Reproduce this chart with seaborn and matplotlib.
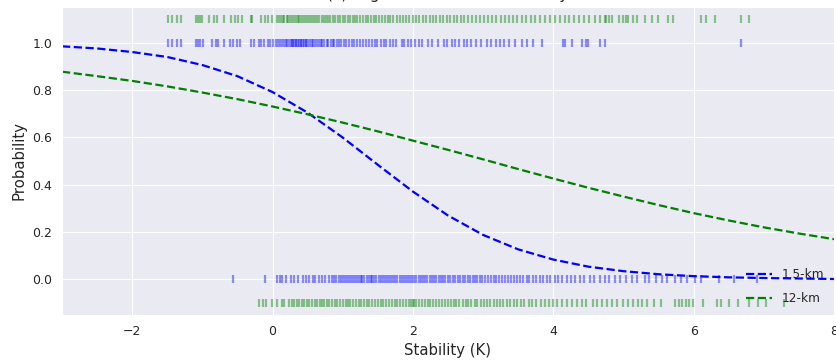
import matplotlib
matplotlib.use("Agg")
import matplotlib.pyplot as plt
import seaborn as sns

# Stability (K) of cases where the 1.5-km level had an event / no event
blue_events = [-1.49, -1.43, -1.36, -1.30, -1.09, -1.06, -1.03, -0.99, -0.86, -0.80, -0.78,
               -0.69, -0.60, -0.56, -0.51, -0.47, -0.30, -0.26, -0.19, -0.16, -0.12, -0.07,
               -0.04, 0.01, 0.05, 0.08, 0.11, 0.14, 0.16, 0.19, 0.21, 0.24, 0.26, 0.28, 0.29,
               0.31, 0.33, 0.34, 0.36, 0.38, 0.40, 0.41, 0.43, 0.45, 0.47, 0.48, 0.51, 0.53,
               0.56, 0.58, 0.61, 0.63, 0.66, 0.69, 0.71, 0.74, 0.77, 0.79, 0.83, 0.86, 0.88,
               0.92, 0.95, 0.98, 1.02, 1.05, 1.09, 1.13, 1.16, 1.21, 1.24, 1.29, 1.33, 1.37,
               1.41, 1.46, 1.49, 1.54, 1.59, 1.62, 1.67, 1.71, 1.76, 1.84, 1.88, 1.93, 1.97,
               2.03, 2.08, 2.13, 2.21, 2.27, 2.36, 2.44, 2.49, 2.55, 2.60, 2.66, 2.73, 2.77,
               2.83, 2.90, 2.97, 3.05, 3.11, 3.18, 3.24, 3.30, 3.37, 3.45, 3.55, 3.62, 3.71,
               3.84, 4.14, 4.17, 4.27, 4.41, 4.46, 4.50, 4.67, 4.74, 6.67]
blue_nonevents = [-0.57, -0.11, 0.07, 0.10, 0.14, 0.19, 0.27, 0.31, 0.36, 0.43, 0.47, 0.52,
                  0.57, 0.61, 0.66, 0.70, 0.75, 0.80, 0.85, 0.88, 0.91, 0.94, 0.97, 1.00,
                  1.03, 1.06, 1.09, 1.12, 1.15, 1.18, 1.20, 1.23, 1.26, 1.28, 1.31, 1.34,
                  1.37, 1.40, 1.42, 1.45, 1.48, 1.51, 1.54, 1.57, 1.60, 1.63, 1.66, 1.69,
                  1.72, 1.75, 1.78, 1.81, 1.84, 1.87, 1.90, 1.93, 1.96, 1.99, 2.02, 2.05,
                  2.08, 2.11, 2.14, 2.17, 2.20, 2.24, 2.27, 2.30, 2.33, 2.37, 2.40, 2.43,
                  2.46, 2.50, 2.53, 2.57, 2.60, 2.64, 2.67, 2.71, 2.74, 2.78, 2.81, 2.85,
                  2.88, 2.92, 2.95, 2.99, 3.03, 3.07, 3.11, 3.15, 3.19, 3.23, 3.27, 3.31,
                  3.35, 3.40, 3.44, 3.48, 3.53, 3.57, 3.62, 3.66, 3.71, 3.76, 3.81, 3.86,
                  3.91, 3.96, 4.02, 4.07, 4.13, 4.19, 4.25, 4.31, 4.38, 4.44, 4.52, 4.58,
                  4.66, 4.73, 4.80, 4.88, 4.95, 5.04, 5.12, 5.20, 5.30, 5.37, 5.46, 5.55,
                  5.62, 5.73, 5.82, 5.90, 6.02, 6.10, 6.36, 6.58, 6.90]

# Stability (K) of cases where the 12-km level had an event / no event
green_events = [-1.49, -1.43, -1.36, -1.30, -1.09, -1.06, -1.03, -1.00, -0.90, -0.83, -0.79,
                -0.69, -0.59, -0.53, -0.49, -0.44, -0.30, -0.29, -0.16, -0.11, -0.07, -0.01,
                0.06, 0.09, 0.12, 0.15, 0.17, 0.20, 0.22, 0.25, 0.28, 0.30, 0.33, 0.36, 0.38,
                0.41, 0.44, 0.46, 0.49, 0.52, 0.55, 0.58, 0.60, 0.63, 0.66, 0.70, 0.73, 0.76,
                0.79, 0.82, 0.86, 0.89, 0.93, 0.96, 1.00, 1.03, 1.07, 1.10, 1.14, 1.18, 1.21,
                1.25, 1.29, 1.33, 1.36, 1.40, 1.44, 1.48, 1.52, 1.56, 1.60, 1.64, 1.68, 1.72,
                1.77, 1.81, 1.86, 1.90, 1.95, 2.00, 2.05, 2.09, 2.14, 2.19, 2.24, 2.29, 2.33,
                2.38, 2.43, 2.48, 2.53, 2.58, 2.63, 2.68, 2.73, 2.78, 2.84, 2.90, 2.95, 3.01,
                3.07, 3.13, 3.19, 3.25, 3.31, 3.37, 3.43, 3.49, 3.55, 3.61, 3.68, 3.74, 3.81,
                3.88, 3.95, 4.02, 4.10, 4.16, 4.22, 4.30, 4.36, 4.44, 4.51, 4.60, 4.67, 4.73,
                4.75, 4.80, 4.84, 4.93, 4.99, 5.03, 5.07, 5.13, 5.20, 5.31, 5.41, 5.49, 5.63,
                5.71, 6.10, 6.17, 6.31, 6.67, 6.79]
green_nonevents = [-0.20, -0.14, -0.09, -0.01, 0.06, 0.13, 0.17, 0.24, 0.28, 0.31, 0.35, 0.38,
                   0.42, 0.45, 0.49, 0.52, 0.56, 0.60, 0.63, 0.67, 0.70, 0.74, 0.78, 0.81,
                   0.85, 0.89, 0.92, 0.96, 1.00, 1.04, 1.07, 1.11, 1.15, 1.19, 1.23, 1.26,
                   1.30, 1.34, 1.38, 1.42, 1.46, 1.50, 1.54, 1.58, 1.62, 1.66, 1.70, 1.74,
                   1.78, 1.82, 1.86, 1.90, 1.94, 1.97, 2.00, 2.02, 2.05, 2.09, 2.13, 2.17,
                   2.21, 2.25, 2.29, 2.33, 2.37, 2.41, 2.46, 2.50, 2.54, 2.58, 2.62, 2.66,
                   2.71, 2.75, 2.79, 2.83, 2.88, 2.92, 2.97, 3.01, 3.06, 3.10, 3.15, 3.20,
                   3.24, 3.29, 3.34, 3.39, 3.44, 3.49, 3.54, 3.59, 3.65, 3.70, 3.76, 3.82,
                   3.88, 3.94, 4.00, 4.06, 4.12, 4.19, 4.27, 4.34, 4.41, 4.47, 4.56, 4.63,
                   4.69, 4.77, 4.84, 4.91, 5.00, 5.06, 5.14, 5.21, 5.27, 5.34, 5.43, 5.53,
                   5.74, 5.79, 5.84, 5.89, 5.93, 5.99, 6.14, 6.34, 6.39, 6.50, 6.63, 6.79,
                   6.91, 7.03, 7.29]

# Fitted logistic probability curves
curve_x = [-3.0, -2.5, -2.0, -1.5, -1.0, -0.5, 0.0, 0.5, 1.0, 1.5, 2.0, 2.5,
           3.0, 3.5, 4.0, 4.5, 5.0, 5.5, 6.0, 6.5, 7.0, 7.5, 8.0]
prob_1p5km = [0.984, 0.975, 0.960, 0.939, 0.905, 0.858, 0.791, 0.704, 0.599, 0.484,
              0.371, 0.270, 0.188, 0.127, 0.084, 0.054, 0.035, 0.022, 0.014, 0.009,
              0.006, 0.004, 0.002]
prob_12km = [0.877, 0.858, 0.838, 0.815, 0.789, 0.761, 0.730, 0.697, 0.662, 0.625,
             0.586, 0.547, 0.507, 0.466, 0.426, 0.387, 0.350, 0.314, 0.280, 0.249,
             0.220, 0.194, 0.170]

series_labels = ["1.5-km", "12-km"]
title = "(c) Logistic Model: AC - stability"

sns.set_style("darkgrid")
plt.rcParams["font.family"] = ["DejaVu Sans"]

fig = plt.figure(figsize=(8.36, 3.6), dpi=100)
ax = fig.add_axes([62 / 836, 45 / 360, 772 / 836, 308 / 360])

rug_kw = dict(marker="|", s=34, linewidth=1.6, alpha=0.42, legend=False, ax=ax)
sns.scatterplot(x=green_events, y=[1.1] * len(green_events), color="g", **rug_kw)
sns.scatterplot(x=blue_events, y=[1.0] * len(blue_events), color="b", **rug_kw)
sns.scatterplot(x=blue_nonevents, y=[0.0] * len(blue_nonevents), color="b", **rug_kw)
sns.scatterplot(x=green_nonevents, y=[-0.1] * len(green_nonevents), color="g", **rug_kw)

sns.lineplot(x=curve_x, y=prob_1p5km, color="b", linestyle="--", linewidth=1.6,
             label=series_labels[0], ax=ax)
sns.lineplot(x=curve_x, y=prob_12km, color="g", linestyle="--", linewidth=1.6,
             label=series_labels[1], ax=ax)

ax.set_xlim(-3, 8)
ax.set_ylim(-0.15, 1.15)
ax.set_xticks([-2, 0, 2, 4, 6, 8])
ax.set_yticks([0.0, 0.2, 0.4, 0.6, 0.8, 1.0])
ax.tick_params(labelsize=9)
ax.set_xlabel("Stability (K)", fontsize=10.7)
ax.set_ylabel("Probability", fontsize=10.7)
ax.set_title(title, fontsize=11, pad=5.5)
ax.legend(loc="lower right", frameon=False, fontsize=8.7, labelspacing=0.95,
          borderaxespad=0.4, handlelength=2.2)

fig.savefig("out.png", dpi=100)
